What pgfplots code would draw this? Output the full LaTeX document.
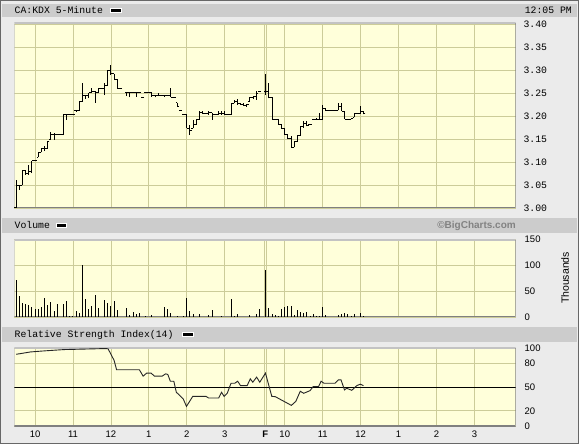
\documentclass[border=0pt]{standalone}
\usepackage{pgfplots}
\pgfplotsset{compat=1.18}
\usepackage{pgfplotstable}
\usepackage{fontspec}
\setmainfont{Liberation Sans}
\newfontfamily\monof{Liberation Mono}
\definecolor{bgc}{RGB}{235,235,235}
\definecolor{hdr}{RGB}{204,204,204}
\definecolor{plotbg}{RGB}{255,255,218}
\definecolor{gridc}{RGB}{204,204,153}
\definecolor{frdark}{RGB}{128,128,128}
\definecolor{frlight}{RGB}{195,195,195}
\definecolor{brand}{RGB}{130,130,130}

\pgfplotstableread{
x o h l c
0 3.000 3.062 3.000 3.050
1 3.050 3.050 3.040 3.050
2 3.050 3.081 3.050 3.081
3 3.081 3.081 3.072 3.075
4 3.075 3.093 3.073 3.080
5 3.080 3.103 3.076 3.103
6 3.103 3.103 3.103 3.103
7 3.111 3.123 3.111 3.120
8 3.122 3.130 3.122 3.130
9 3.130 3.135 3.125 3.130
10 3.130 3.146 3.129 3.146
11 3.149 3.165 3.149 3.160
12 3.160 3.163 3.149 3.161
13 3.161 3.161 3.161 3.161
14 3.161 3.161 3.161 3.161
15 3.161 3.203 3.159 3.203
16 3.203 3.203 3.192 3.203
17 3.203 3.203 3.203 3.203
18 3.203 3.203 3.203 3.203
19 3.212 3.212 3.210 3.212
20 3.212 3.232 3.212 3.232
21 3.232 3.272 3.232 3.246
22 3.246 3.246 3.238 3.246
23 3.246 3.251 3.239 3.251
24 3.251 3.261 3.251 3.255
25 3.255 3.255 3.230 3.251
26 3.251 3.261 3.251 3.261
27 3.261 3.261 3.261 3.261
28 3.261 3.272 3.246 3.268
29 3.268 3.301 3.268 3.300
30 3.300 3.312 3.290 3.293
31 3.293 3.293 3.281 3.281
32 3.281 3.281 3.261 3.261
33 3.261 3.261 3.261 3.261
35 3.251 3.251 3.244 3.251
36 3.251 3.251 3.241 3.251
37 3.251 3.251 3.251 3.251
38 3.251 3.251 3.243 3.251
39 3.251 3.251 3.251 3.251
40 3.241 3.241 3.241 3.241
41 3.251 3.251 3.251 3.251
42 3.251 3.251 3.251 3.251
43 3.251 3.251 3.243 3.246
44 3.246 3.246 3.241 3.246
45 3.246 3.251 3.244 3.246
46 3.246 3.246 3.246 3.246
47 3.246 3.246 3.243 3.246
48 3.246 3.246 3.246 3.246
49 3.246 3.261 3.241 3.241
50 3.241 3.241 3.241 3.241
51 3.230 3.230 3.222 3.222
52 3.212 3.212 3.212 3.212
53 3.203 3.203 3.203 3.203
54 3.203 3.203 3.174 3.174
55 3.174 3.181 3.159 3.170
56 3.174 3.192 3.174 3.181
57 3.181 3.192 3.181 3.192
58 3.192 3.211 3.192 3.208
59 3.208 3.211 3.206 3.206
60 3.206 3.206 3.206 3.206
61 3.206 3.211 3.203 3.208
62 3.208 3.208 3.192 3.203
63 3.203 3.203 3.203 3.203
64 3.203 3.211 3.203 3.206
65 3.206 3.211 3.203 3.205
66 3.205 3.211 3.203 3.203
67 3.203 3.203 3.203 3.203
68 3.203 3.228 3.203 3.228
69 3.228 3.235 3.228 3.232
70 3.232 3.237 3.225 3.228
71 3.228 3.229 3.225 3.226
72 3.226 3.228 3.222 3.224
73 3.224 3.226 3.221 3.226
74 3.232 3.243 3.232 3.241
75 3.241 3.243 3.237 3.243
76 3.243 3.254 3.236 3.250
77 3.254 3.254 3.254 3.254
79 3.254 3.293 3.246 3.255
80 3.255 3.272 3.239 3.241
81 3.241 3.241 3.193 3.193
82 3.193 3.193 3.193 3.193
83 3.193 3.193 3.182 3.182
84 3.182 3.182 3.173 3.173
85 3.173 3.173 3.160 3.160
86 3.160 3.160 3.151 3.151
87 3.151 3.158 3.132 3.132
88 3.132 3.144 3.132 3.144
89 3.144 3.157 3.144 3.157
90 3.157 3.178 3.157 3.178
91 3.178 3.189 3.175 3.185
92 3.185 3.189 3.178 3.180
93 3.182 3.182 3.182 3.182
94 3.193 3.193 3.193 3.193
95 3.193 3.196 3.193 3.193
96 3.193 3.207 3.193 3.193
97 3.193 3.225 3.193 3.218
98 3.218 3.218 3.211 3.213
99 3.213 3.213 3.213 3.213
100 3.213 3.213 3.213 3.213
101 3.213 3.213 3.213 3.213
102 3.213 3.230 3.213 3.221
103 3.221 3.229 3.211 3.211
104 3.211 3.211 3.193 3.193
105 3.193 3.193 3.193 3.193
106 3.193 3.196 3.193 3.196
107 3.198 3.206 3.198 3.206
108 3.206 3.206 3.206 3.206
109 3.206 3.222 3.206 3.211
110 3.211 3.212 3.204 3.207
}\pricedata

\pgfplotstableread{
x v
0 71.4
1 40.3
2 27.3
3 26
4 22.7
5 18.8
6 15.6
7 15.6
8 18.8
9 36.4
10 22.7
11 28.6
12 11
13 24.7
15 24.7
16 30.5
17 2
18 1.3
19 11
20 7.8
21 100
22 34.4
23 15.6
24 20.8
25 43.5
26 17.5
28 32.5
29 26.6
30 21.4
31 30.5
32 13
35 16.9
36 3.9
37 9.1
38 5.2
39 7.8
41 2.6
43 3.2
47 19.5
48 15.6
49 7.1
51 2.6
53 2.6
54 37
55 11
56 5.2
58 6.5
61 4.5
62 13
65 1.3
68 34.4
69 2.6
70 5.2
74 4.5
76 5.2
77 15.6
79 90.9
80 16.9
81 5.2
82 3.2
83 2
84 14.9
85 18.8
86 20.8
87 20.8
88 3.2
89 13
90 9.1
91 7.1
92 9.1
93 2
94 5.2
95 2
96 2
97 18.8
98 3.9
102 3.2
103 6.5
104 7.1
105 5.2
106 2.6
107 6.5
109 7.1
110 2.6
}\voldata

\pgfplotsset{
  chartax/.style={
    scale only axis, width=501pt,
    xmin=-0.5, xmax=158,
    axis background/.style={fill=plotbg},
    axis line style={draw=none},
    grid=major,
    major grid style={draw=gridc, line width=0.8pt},
    tick style={draw=none},
    major tick length=0pt,
    xtick={6,18,30,42,54,66,78.5,79.15,85,97,109,121,133,145},
    xticklabels={},
    yticklabel pos=right,
    /pgf/number format/assume math mode=true,
  },
}
\newcommand{\plotframe}{%
  \draw[frlight, line width=2pt] (rel axis cs:0,0) -- (rel axis cs:0,1) -- (rel axis cs:1,1);
  \draw[frdark, line width=2pt] (rel axis cs:0,0) -- (rel axis cs:1,0) -- (rel axis cs:1,1);
}
\newcommand{\swatch}[3]{%
  \fill[white] (#1pt,#3pt-2.6pt) rectangle (#2pt,#3pt+2.6pt);
  \fill[black] (#1pt+1pt,#3pt-1.6pt) rectangle (#2pt-1pt,#3pt+1.6pt);
}

\begin{document}
\begin{tikzpicture}
\useasboundingbox (0,0) rectangle (579pt,444pt);
\fill[bgc] (0,0) rectangle (579pt,444pt);
% header bars
\fill[hdr] (2pt,427pt) rectangle (577pt,440pt);
\fill[hdr] (2pt,211.3pt) rectangle (577pt,225.7pt);
\fill[hdr] (2pt,102.3pt) rectangle (577pt,116.7pt);
\node[anchor=west, inner sep=0pt, font=\monof\fontsize{9.8}{10}\selectfont] at (14.5pt,433.5pt) {CA:KDX 5-Minute};
\swatch{110}{122}{433.5}
\node[anchor=east, inner sep=0pt, font=\monof\fontsize{9.8}{10}\selectfont] at (572pt,433.5pt) {12:05 PM};
\node[anchor=west, inner sep=0pt, font=\monof\fontsize{9.8}{10}\selectfont] at (14.5pt,218.5pt) {Volume};
\swatch{55.5}{67}{218.5}
\node[anchor=east, inner sep=0pt, text=brand, font=\bfseries\fontsize{10}{11}\selectfont] at (516pt,218.5pt) {©BigCharts.com};
\node[anchor=west, inner sep=0pt, font=\monof\fontsize{9.8}{10}\selectfont] at (14.5pt,109.5pt) {Relative Strength Index(14)};
\swatch{182}{193.5}{109.5}
\node[rotate=90, inner sep=0pt, font=\fontsize{10.5}{11}\selectfont] at (565pt,166pt) {Thousands};

% ---------- price panel ----------
\begin{axis}[chartax, at={(14.5pt,236pt)}, anchor=south west,
  height=185.3pt, ymin=3.0, ymax=3.404,
  ytick={3.00,3.05,3.10,3.15,3.20,3.25,3.30,3.35,3.40},
  yticklabel style={font=\monof\fontsize{9.8}{10}\selectfont, anchor=west, inner sep=0pt, xshift=7.8pt},
  yticklabel={\pgfmathprintnumber[fixed,fixed zerofill,precision=2]{\tick}},
]
\plotframe
\addplot[draw=none, mark=none,
  error bars/.cd, y dir=plus, y explicit, error mark=none,
  error bar style={draw=black, line width=1pt}]
  table[x=x, y=l, y error expr=\thisrow{h}-\thisrow{l}] {\pricedata};
\addplot[draw=none, mark=-, mark size=0.85pt, mark options={draw=black, line width=1pt}]
  table[x expr=\thisrow{x}-0.27, y=o] {\pricedata};
\addplot[draw=none, mark=-, mark size=0.85pt, mark options={draw=black, line width=1pt}]
  table[x expr=\thisrow{x}+0.27, y=c] {\pricedata};
\end{axis}

% ---------- volume panel ----------
\begin{axis}[chartax, at={(14.5pt,127pt)}, anchor=south west,
  height=77.3pt, ymin=0, ymax=150,
  ytick={0,50,100,150},
  yticklabel style={font=\fontsize{9.5}{10}\selectfont, anchor=west, inner sep=0pt, xshift=9pt},
]
\plotframe
\addplot[ycomb, draw=black, line width=1pt, mark=none] table[x=x, y=v] {\voldata};
\end{axis}

% ---------- RSI panel ----------
\begin{axis}[chartax, at={(14.5pt,17.5pt)}, anchor=south west,
  height=78.5pt, ymin=0, ymax=100,
  ytick={0,20,50,80,100},
  yticklabel style={font=\fontsize{9.5}{10}\selectfont, anchor=west, inner sep=0pt, xshift=9pt},
  xticklabels={10,11,12,1,2,3,,,10,11,12,1,2,3},
  xticklabel style={font=\fontsize{9.5}{10}\selectfont, anchor=north, inner sep=0pt, yshift=-4.5pt},
  extra x ticks={78.85},
  extra x tick labels={\textbf{F}},
  extra x tick style={grid=none},
]
\plotframe
\addplot[draw=black, line width=1pt, mark=none] coordinates {(-0.5,50) (158,50)};
\addplot[draw=black!85, line width=0.9pt, mark=none] coordinates {
(0,92) (1.5,92.9) (4.6,95) (8.9,96.3) (15.2,98) (19.4,98.4) (28.3,99.3) (29.1,99)
(29.9,92.9) (31,84.3) (31.8,72.3) (39,72.3) (40.2,64.1) (41.3,68) (42.7,68) (43.8,64.1)
(46.2,64.1) (47.3,67.1) (48,66.3) (48.8,57.7) (49.9,57.7) (50.7,43.6) (51.5,40.6) (52.9,35)
(53.9,25.6) (55.9,38.4) (60.1,38.4) (60.9,36.3) (64.1,36.3) (65,43.6) (65.8,38.4) (66.8,42.3)
(68,55.1) (69.2,55.1) (70.1,57.7) (71,52.1) (73.1,52.1) (74.1,60.7) (74.9,56.4) (76.1,62.9)
(77.1,56.4) (78.9,68) (80.9,38.4) (82,38) (87.1,26.9) (88.5,32) (89.9,44.9) (91,42.3)
(93,45.7) (94,50.9) (95.7,50.9) (96.5,57.7) (97.4,55.1) (100.9,55.1) (102,59.4) (102.8,59.4)
(103.9,46.6) (104.6,48.7) (106.2,46.1) (107.8,52.1) (108.9,53.9) (109.9,52.1)};
\end{axis}

\draw[frdark!80!black, line width=1pt] (0.5pt,0.5pt) rectangle (578.5pt,443.5pt);
\end{tikzpicture}
\end{document}
